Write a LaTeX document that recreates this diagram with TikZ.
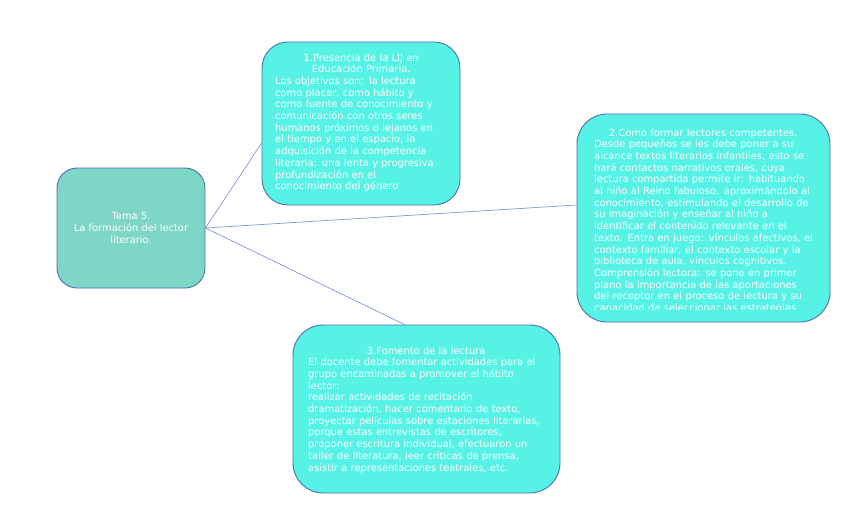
\documentclass[tikz,border=0pt]{standalone}
\usepackage{fontspec}
\setmainfont{DejaVu Sans}
\usetikzlibrary{calc}
\definecolor{bordc}{HTML}{4F6FAE}
\definecolor{linec}{HTML}{7E98D2}
\definecolor{cfill}{HTML}{7DD6C6}
\definecolor{bfill}{HTML}{55F2E5}
\tikzset{
  box/.style={draw=bordc, line width=0.9pt, rounded corners=26pt, fill=bfill, inner sep=0pt},
  cbox/.style={draw=bordc, line width=0.9pt, rounded corners=20pt, fill=cfill, inner sep=0pt, text=white, align=center, font=\fontsize{9.9}{11.6}\selectfont},
  txt/.style={text=white, inner sep=0pt, anchor=base west, font=\fontsize{9.9}{11.7}\selectfont},
  conn/.style={draw=linec, line width=0.7pt}
}
\begin{document}
\begin{tikzpicture}[x=1pt,y=-1pt]
\useasboundingbox (0,0) rectangle (848,515);
\fill[white] (0,0) rectangle (848,515);
% boxes
\node[cbox, minimum width=148pt, minimum height=120pt] (c) at (131,228) {Tema 5.\\La formación del lector\\literario.};
\node[box, minimum width=198pt, minimum height=163pt] (b1) at (361,123.5) {};
\node[box, minimum width=253pt, minimum height=208pt, rounded corners=30pt] (b2) at (703.5,218) {};
\node[box, minimum width=267pt, minimum height=168pt, rounded corners=30pt] (b3) at (426.5,409) {};
% connectors
\draw[conn] (c.east) -- ($(b1.west)+(0,19.5)$);
\draw[conn] (c.east) -- ($(b2.west)+(0,-13)$);
\draw[conn] (c.east) -- ($(b3.north)+(-22,0)$);
% texts
\node[txt, text width=172pt] (t1) at (275,61) {{\centering 1.Presencia de la LIJ en\\Educación Primaria.\par}
Los objetivos son: la lectura\\
como placer, como hábito y\\
como fuente de conocimiento y\\
comunicación con otros seres\\
humanos próximos o lejanos en\\
el tiempo y en el espacio, la\\
adquisición de la competencia\\
literaria: una lenta y progresiva\\
profundización en el\\
conocimiento del género};
\begin{scope}
\clip (577,114) rectangle (830,309);
\node[txt, text width=240pt] (t2) at (594,136) {{\centering\hspace*{-22pt}2.Como formar lectores competentes.\par}
Desde pequeños se les debe poner a su\\
alcance textos literarios infantiles, esto se\\
hará contactos narrativos orales, cuya\\
lectura compartida permite ir: habituando\\
al niño al Reino fabuloso. aproximándolo al\\
conocimiento, estimulando el desarrollo de\\
su imaginación y enseñar al niño a\\
identificar el contenido relevante en el\\
texto. Entra en juego: vínculos afectivos, el\\
contexto familiar, el contexto escolar y la\\
biblioteca de aula, vínculos cognitivos.\\
Comprensión lectora: se pone en primer\\
plano la importancia de las aportaciones\\
del receptor en el proceso de lectura y su\\
capacidad de seleccionar las estrategias};
\end{scope}
\node[txt, text width=236pt] (t3) at (308,354) {{\centering 3.Fomento de la lectura\par}
El docente debe fomentar actividades para el\\
grupo encaminadas a promover el hábito\\
lector:\\
realizar actividades de recitación\\
dramatización, hacer comentario de texto,\\
proyectar películas sobre estaciones literarias,\\
porque estas entrevistas de escritores,\\
proponer escritura individual, efectuaron un\\
taller de literatura, leer críticas de prensa,\\
asistir a representaciones teatrales, etc.};
\end{tikzpicture}
\end{document}
